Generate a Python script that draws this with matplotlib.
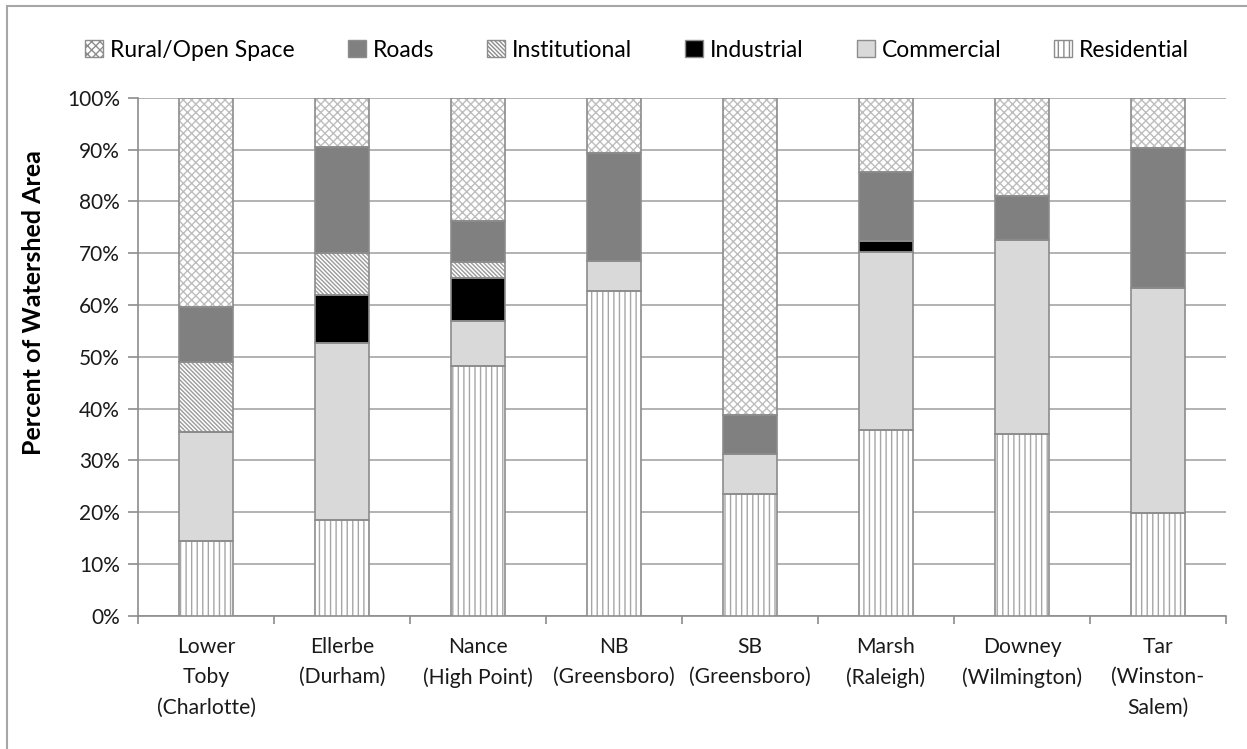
import matplotlib.pyplot as plt
import numpy as np
from matplotlib.patches import Patch, Rectangle

plt.rcParams['font.family'] = ['Lato', 'DejaVu Sans']
plt.rcParams['hatch.linewidth'] = 1.0

# watersheds and land-use percentages (bottom to top)
sites = ['Lower\nToby\n(Charlotte)', 'Ellerbe\n(Durham)', 'Nance\n(High Point)', 'NB\n(Greensboro)',
         'SB\n(Greensboro)', 'Marsh\n(Raleigh)', 'Downey\n(Wilmington)', 'Tar\n(Winston-\nSalem)']
residential   = [14.5, 18.5, 48.2, 62.7, 23.5, 35.8, 35.2, 19.8]
commercial    = [21.0, 34.2,  8.8,  5.8,  7.7, 34.5, 37.3, 43.4]
industrial    = [ 0.0,  9.3,  8.3,  0.0,  0.0,  2.0,  0.0,  0.0]
institutional = [13.5,  8.1,  3.0,  0.0,  0.0,  0.0,  0.0,  0.0]
roads         = [10.7, 20.4,  7.9, 20.8,  7.6, 13.4,  8.6, 27.0]
rural = list(100 - np.array(residential) - np.array(commercial) - np.array(industrial)
             - np.array(institutional) - np.array(roads))

# name, values, face colour, hatch, hatch colour
layers = [
    ('Residential', residential, 'white', '|||', '#a6a6a6'),
    ('Commercial', commercial, '#d9d9d9', '', '#d9d9d9'),
    ('Industrial', industrial, 'black', '', 'black'),
    ('Institutional', institutional, 'white', '\\' * 8, '#9a9a9a'),
    ('Roads', roads, '#808080', '', '#808080'),
    ('Rural/Open Space', rural, 'white', 'xxxx', '#bdbdbd'),
]
edge = '#8c8c8c'

fig = plt.figure(figsize=(12.47, 7.49), dpi=100)
ax = fig.add_axes([0.1107, 0.1776, 0.8725, 0.692])

x = np.arange(len(sites))
w = 0.4
bottom = np.zeros(len(sites))
for name, vals, fc, hatch, hc in layers:
    vals = np.array(vals)
    ax.bar(x, vals, w, bottom=bottom, color=fc, hatch=hatch, edgecolor=hc, linewidth=0, zorder=3)
    ax.bar(x, vals, w, bottom=bottom, fill=False, edgecolor=edge, linewidth=1.2, zorder=4)
    bottom += vals

ax.set_xlim(-0.5, len(sites) - 0.5)
ax.set_ylim(0, 100)
ax.set_yticks(np.arange(0, 101, 10))
ax.set_yticklabels([f'{v}%' for v in range(0, 101, 10)], fontsize=15, color='#1a1a1a')
ax.yaxis.grid(True, color='#a6a6a6', linewidth=1.2, zorder=0)
ax.set_axisbelow(True)

ax.set_xticks(x)
ax.set_xticklabels(sites, fontsize=15.2, color='#1a1a1a', linespacing=1.65)
ax.tick_params(axis='x', length=0, pad=15)
ax.set_xticks(np.arange(-0.5, len(sites)), minor=True)
ax.tick_params(axis='x', which='minor', length=6, color='#8c8c8c', width=1.2)
ax.tick_params(axis='y', length=7, color='#8c8c8c', width=1.2, pad=6)

for s in ['top', 'right']:
    ax.spines[s].set_visible(False)
for s in ['left', 'bottom']:
    ax.spines[s].set_color('#8c8c8c')
    ax.spines[s].set_linewidth(1.2)

ax.set_ylabel('Percent of Watershed Area', fontsize=18, fontweight='bold')
ax.yaxis.set_label_coords(-0.0855, 0.605)

handles = []
for name, vals, fc, hatch, hc in reversed(layers):
    handles.append(Patch(facecolor=fc, hatch=hatch, edgecolor=edge, linewidth=1.0, label=name))
fig.legend(handles=handles, loc='center', bbox_to_anchor=(0.511, 0.933), ncol=6, frameon=False,
           fontsize=16.5, handlelength=0.8, handleheight=0.8, handletextpad=0.3, columnspacing=2.3)

# outer chart border
fig.patches.append(Rectangle((7 / 1247, -0.01), 1.1, 1 - 6 / 749 + 0.01, transform=fig.transFigure,
                             fill=False, edgecolor='#a6a6a6', linewidth=1.5))

fig.savefig('out.png', dpi=100)
